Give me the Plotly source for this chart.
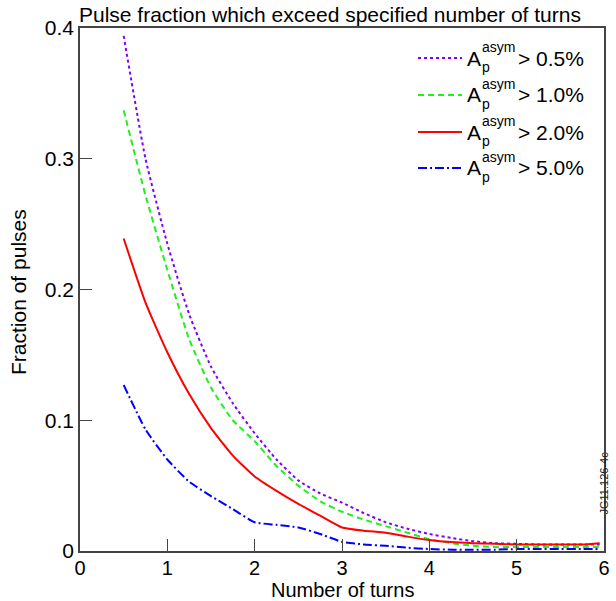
import plotly.graph_objects as go

# ---- data ----
turns = [0.5, 0.75, 1.0, 1.25, 1.5, 1.75, 2.0, 2.25, 2.5, 2.75, 3.0, 3.25,
         3.5, 3.75, 4.0, 4.25, 4.5, 4.75, 5.0, 5.25, 5.5, 5.75, 5.95]
frac_05 = [0.394, 0.300, 0.235, 0.181, 0.141, 0.113, 0.090, 0.070, 0.054, 0.044,
           0.037, 0.029, 0.022, 0.017, 0.013, 0.010, 0.0075, 0.006, 0.0055,
           0.005, 0.005, 0.005, 0.005]
frac_10 = [0.337, 0.272, 0.215, 0.162, 0.125, 0.100, 0.084, 0.065, 0.050, 0.038,
           0.030, 0.024, 0.019, 0.014, 0.009, 0.006, 0.004, 0.003, 0.003,
           0.003, 0.003, 0.003, 0.003]
frac_20 = [0.239, 0.190, 0.152, 0.120, 0.094, 0.073, 0.057, 0.046, 0.036, 0.027,
           0.018, 0.0155, 0.014, 0.011, 0.0084, 0.0068, 0.006, 0.0055, 0.005,
           0.005, 0.005, 0.005, 0.006]
frac_50 = [0.127, 0.093, 0.070, 0.053, 0.042, 0.032, 0.022, 0.020, 0.018, 0.013,
           0.007, 0.005, 0.004, 0.0025, 0.0015, 0.001, 0.001, 0.001, 0.0015,
           0.0015, 0.0015, 0.0015, 0.0015]
thresholds = ["0.5%", "1.0%", "2.0%", "5.0%"]
series = [frac_05, frac_10, frac_20, frac_50]
colors = ["#8000ff", "#22ee22", "#ff0000", "#0000ff"]
dashes = ["dot", "6px,4px", "solid", "9px,3px,2px,3px"]

x_ticks = [0, 1, 2, 3, 4, 5, 6]
y_ticks = [0, 0.1, 0.2, 0.3, 0.4]
y_tick_text = ["0", "0.1", "0.2", "0.3", "0.4"]

FONT = "Liberation Sans, Arial, Helvetica, sans-serif"
FS = 21
W, H = 616, 601
L, R, T, B = 80, 12, 28, 50
PW, PH = W - L - R, H - T - B


def px2paper(px, py):
    return (px - L) / PW, (H - B - py) / PH


fig = go.Figure()
for vals, col, dsh, th in zip(series, colors, dashes, thresholds):
    fig.add_trace(go.Scatter(x=turns, y=vals, mode="lines", name=th,
                             line=dict(color=col, width=2, dash=dsh,
                                       shape="spline", smoothing=0.5),
                             showlegend=False))

# custom legend (ROOT style stacked super/subscript)
shapes = []
annotations = []
leg_y = [58, 95, 132, 168]
for yy, col, dsh, th in zip(leg_y, colors, dashes, thresholds):
    x0, y0 = px2paper(418, yy)
    x1, _ = px2paper(462, yy)
    shapes.append(dict(type="line", xref="paper", yref="paper", x0=x0, x1=x1,
                       y0=y0, y1=y0, line=dict(color=col, width=2, dash=dsh)))
    ax, ay = px2paper(466, yy)
    annotations.append(dict(xref="paper", yref="paper", x=ax, y=ay, text="A",
                            showarrow=False, xanchor="left", yanchor="middle",
                            borderpad=0,
                            font=dict(family=FONT, size=FS, color="black")))
    sx, sy = px2paper(481, yy - 11)
    annotations.append(dict(xref="paper", yref="paper", x=sx, y=sy, text="asym",
                            showarrow=False, xanchor="left", yanchor="middle",
                            borderpad=0,
                            font=dict(family=FONT, size=14, color="black")))
    bx, by = px2paper(481, yy + 9)
    annotations.append(dict(xref="paper", yref="paper", x=bx, y=by, text="p",
                            showarrow=False, xanchor="left", yanchor="middle",
                            borderpad=0,
                            font=dict(family=FONT, size=14, color="black")))
    tx, ty = px2paper(517, yy)
    annotations.append(dict(xref="paper", yref="paper", x=tx, y=ty, text="> " + th,
                            showarrow=False, xanchor="left", yanchor="middle",
                            borderpad=0,
                            font=dict(family=FONT, size=FS, color="black")))

# title
annotations.append(dict(xref="paper", yref="paper", x=0, y=1, xanchor="left",
                        yanchor="bottom", showarrow=False, xshift=-3,
                        text="Pulse fraction which exceed specified number of turns",
                        font=dict(family=FONT, size=FS, color="black")))
# axis titles
nx, ny = px2paper(342, 590)
annotations.append(dict(xref="paper", yref="paper", x=nx, y=ny, showarrow=False,
                        xanchor="center", yanchor="middle", text="Number of turns",
                        borderpad=0,
                        font=dict(family=FONT, size=20, color="black")))
fx, fy = px2paper(18, 292)
annotations.append(dict(xref="paper", yref="paper", x=fx, y=fy, showarrow=False,
                        textangle=-90, xanchor="center", yanchor="middle",
                        text="Fraction of pulses",
                        font=dict(family=FONT, size=FS, color="black")))
# side label
jx, jy = px2paper(611, 517)
annotations.append(dict(xref="paper", yref="paper", x=jx, y=jy, textangle=-90,
                        showarrow=False, text="JG11.126-4c",
                        font=dict(family=FONT, size=11, color="#222")))

axis_common = dict(showgrid=False, zeroline=False, showline=True, mirror=True,
                   linecolor="#444", linewidth=1.5, ticks="inside", ticklen=12,
                   tickwidth=1.2, tickcolor="#444", automargin=False)

fig.update_layout(
    width=W, height=H,
    margin=dict(l=L, r=R, t=T, b=B),
    plot_bgcolor="white", paper_bgcolor="white",
    shapes=shapes, annotations=annotations,
    xaxis=dict(range=[0, 6], tickvals=x_ticks, ticktext=[str(v) for v in x_ticks],
               ticklabelstandoff=-2,
               tickfont=dict(family=FONT, size=20, color="black"),
               **axis_common),
    yaxis=dict(range=[0, 0.4], tickvals=y_ticks, ticktext=y_tick_text,
               tickfont=dict(family=FONT, size=FS, color="black"),
               **axis_common),
)

fig.write_html("out.html")
